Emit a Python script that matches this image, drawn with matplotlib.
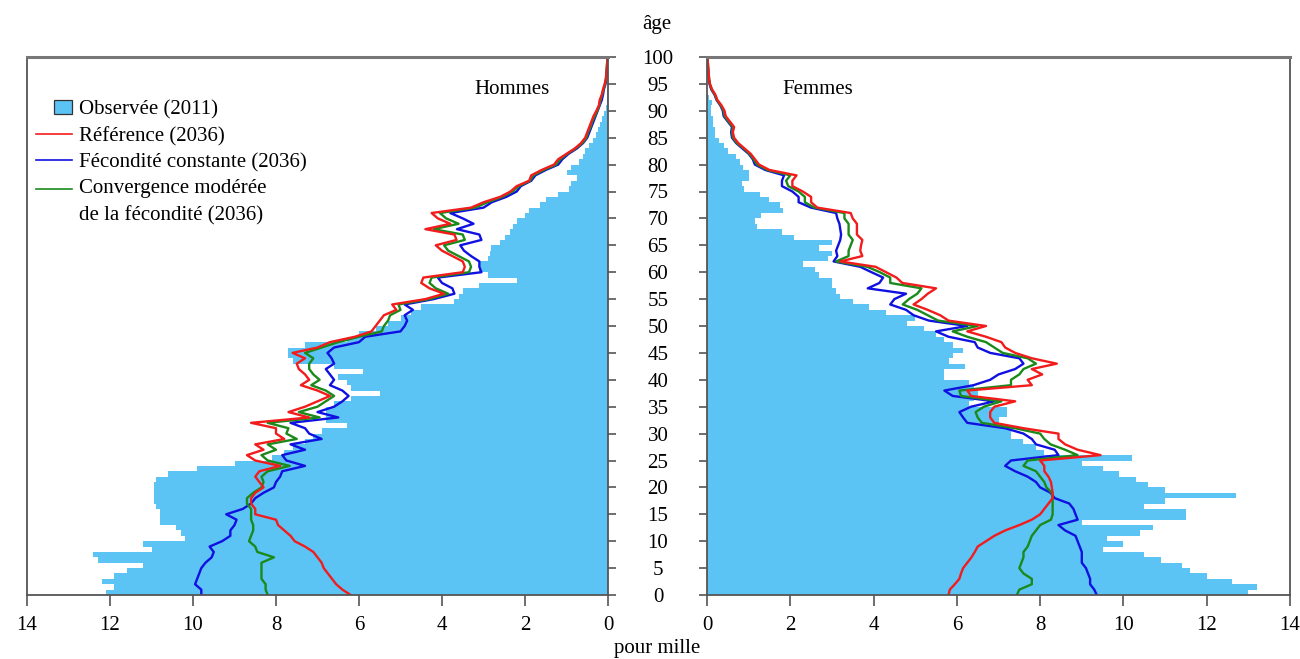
import matplotlib
matplotlib.use("Agg")
import matplotlib.pyplot as plt
from matplotlib.patches import Patch, Rectangle
from matplotlib.lines import Line2D
from matplotlib.legend_handler import HandlerPatch, HandlerLine2D

ages = list(range(0, 101))

# ---- Hommes (pour mille) ----
hommes_obs = [12.1, 11.9, 12.2, 11.9, 11.6, 11.2, 12.3, 12.4, 11.0, 11.2,
              10.2, 10.3, 10.4, 10.8, 10.8, 10.8, 10.9, 10.95, 10.95, 10.95,
              10.95, 10.9, 10.6, 9.9, 9.0, 8.1, 7.8, 7.6, 7.3, 7.1,
              6.9, 6.3, 6.8, 6.8, 6.8, 6.6, 6.2, 5.5, 6.2, 6.3,
              6.5, 5.9, 6.6, 7.6, 7.7, 7.7, 7.3, 6.3, 6.0, 5.6,
              5.3, 5.0, 4.75, 4.5, 3.7, 3.6, 3.5, 3.1, 2.2, 2.9,
              3.1, 3.1, 2.9, 2.85, 2.83, 2.6, 2.47, 2.35, 2.3, 2.2,
              2.0, 1.9, 1.65, 1.5, 1.2, 0.95, 0.9, 0.75, 1.0, 0.9,
              0.7, 0.6, 0.55, 0.45, 0.35, 0.3, 0.25, 0.2, 0.15, 0.1,
              0.05, 0.03, 0.02, 0.02, 0.01, 0.01, 0, 0, 0, 0, 0]
hommes_ref = [6.2, 6.4, 6.55, 6.65, 6.75, 6.85, 6.9, 7.0, 7.1, 7.3,
              7.55, 7.65, 7.8, 7.95, 8.0, 8.5, 8.5, 8.6, 8.6, 8.5,
              8.3, 8.4, 8.5, 8.4, 7.9, 8.5, 8.7, 8.3, 8.5, 7.8,
              8.0, 8.0, 8.6, 7.2, 7.7, 7.3, 7.0, 6.7, 7.0, 7.4,
              7.2, 7.3, 7.45, 7.5, 7.3, 7.6, 7.0, 6.7, 6.1, 5.7,
              5.6, 5.5, 5.4, 5.1, 5.2, 4.4, 3.95, 4.3, 4.5, 4.45,
              3.5, 3.45, 3.5, 3.75, 4.0, 4.15, 3.65, 3.7, 4.4, 3.8,
              4.1, 4.25, 3.3, 3.0, 2.6, 2.35, 2.2, 1.9, 1.85, 1.6,
              1.3, 1.2, 1.0, 0.8, 0.65, 0.55, 0.5, 0.45, 0.4, 0.35,
              0.28, 0.22, 0.2, 0.15, 0.12, 0.08, 0.05, 0.04, 0.03, 0.02, 0.01]
hommes_fc = [9.8, 9.8, 9.95, 9.9, 9.85, 9.8, 9.7, 9.55, 9.5, 9.6,
             9.3, 9.1, 9.1, 9.0, 8.95, 9.2, 8.8, 8.6, 8.5, 8.3,
             8.05, 8.0, 7.9, 7.85, 7.3, 7.75, 7.85, 7.3, 7.65, 6.9,
             7.2, 7.3, 7.65, 6.5, 7.0, 6.6, 6.4, 6.25, 6.4, 6.7,
             6.6, 6.7, 6.8, 6.6, 6.66, 6.76, 6.6, 6.0, 5.85, 5.0,
             4.9, 4.84, 4.9, 4.7, 4.9, 4.2, 3.7, 3.75, 4.0, 4.1,
             3.05, 3.1, 3.1, 3.3, 3.47, 3.56, 3.05, 3.1, 3.64, 3.24,
             3.5, 3.8, 3.0, 2.8, 2.45, 2.2, 2.1, 1.85, 1.75, 1.5,
             1.2, 1.1, 0.95, 0.75, 0.6, 0.5, 0.45, 0.4, 0.35, 0.3,
             0.25, 0.2, 0.15, 0.12, 0.1, 0.06, 0.04, 0.03, 0.02, 0.01, 0.01]
hommes_cm = [8.2, 8.25, 8.25, 8.35, 8.35, 8.35, 8.35, 8.05, 8.45, 8.5,
             8.65, 8.6, 8.55, 8.55, 8.6, 8.6, 8.6, 8.7, 8.7, 8.55,
             8.35, 8.3, 8.35, 8.2, 7.67, 8.2, 8.35, 8.0, 8.2, 7.5,
             7.75, 7.7, 8.2, 6.95, 7.45, 7.0, 6.8, 6.6, 6.8, 7.15,
             6.95, 7.1, 7.2, 7.2, 7.1, 7.3, 6.9, 6.5, 6.0, 5.45,
             5.4, 5.3, 5.25, 5.0, 5.05, 4.3, 3.85, 4.15, 4.3, 4.25,
             3.35, 3.3, 3.35, 3.6, 3.85, 3.95, 3.45, 3.5, 4.2, 3.6,
             3.9, 4.05, 3.2, 2.9, 2.55, 2.3, 2.15, 1.88, 1.8, 1.55,
             1.25, 1.15, 0.98, 0.78, 0.62, 0.52, 0.48, 0.42, 0.38, 0.32,
             0.26, 0.21, 0.18, 0.14, 0.11, 0.07, 0.05, 0.04, 0.03, 0.02, 0.01]

# ---- Femmes (pour mille) ----
femmes_obs = [13.0, 13.2, 12.6, 12.0, 11.6, 11.4, 10.9, 10.5, 9.5, 10.0,
              9.6, 10.4, 10.7, 9.0, 11.5, 11.5, 10.5, 11.0, 12.7, 11.0,
              10.6, 10.3, 9.9, 9.5, 9.0, 10.2, 8.1, 7.9, 7.6, 7.3,
              7.3, 6.9, 7.0, 7.2, 7.2, 6.3, 6.4, 6.5, 6.4, 6.3,
              5.7, 5.7, 6.2, 5.8, 5.9, 6.15, 5.9, 5.7, 5.5, 5.2,
              4.8, 5.0, 4.3, 3.9, 3.5, 3.2, 3.1, 3.0, 3.0, 2.7,
              2.6, 2.3, 2.9, 3.0, 2.7, 3.0, 2.1, 1.8, 1.2, 1.15,
              1.3, 1.83, 1.75, 1.5, 1.27, 0.9, 0.85, 1.0, 1.0, 0.87,
              0.8, 0.7, 0.5, 0.4, 0.3, 0.2, 0.2, 0.15, 0.15, 0.1,
              0.1, 0.12, 0.05, 0, 0, 0, 0, 0, 0, 0, 0]
femmes_ref = [5.8, 5.83, 5.95, 6.06, 6.1, 6.15, 6.25, 6.35, 6.43, 6.5,
              6.7, 6.9, 7.16, 7.5, 7.8, 8.0, 8.1, 8.2, 8.3, 8.3,
              8.28, 8.26, 8.2, 8.1, 8.1, 8.0, 9.45, 8.9, 8.6, 8.44,
              8.44, 7.6, 6.9, 6.8, 6.8, 6.9, 7.4, 6.34, 6.25, 7.8,
              7.7, 8.05, 7.8, 8.4, 7.8, 7.4, 7.16, 7.07, 6.7, 6.25,
              6.7, 5.8, 5.6, 5.3, 4.96, 5.15, 5.3, 5.5, 4.69, 4.55,
              4.3, 4.05, 3.2, 3.73, 3.68, 3.7, 3.73, 3.6, 3.6, 3.6,
              3.5, 3.45, 2.65, 2.5, 2.5, 2.3, 2.05, 2.05, 2.15, 1.5,
              1.25, 1.15, 1.05, 0.9, 0.75, 0.65, 0.62, 0.65, 0.55, 0.45,
              0.42, 0.35, 0.25, 0.2, 0.12, 0.07, 0.05, 0.04, 0.03, 0.02, 0.01]
femmes_fc = [9.36, 9.3, 9.2, 9.2, 9.15, 9.1, 9.0, 9.0, 9.0, 8.95,
             8.9, 8.85, 8.6, 8.44, 8.9, 8.85, 8.8, 8.7, 8.35, 8.25,
             8.0, 7.9, 7.7, 7.4, 7.16, 7.3, 8.44, 8.35, 7.9, 7.8,
             7.6, 7.16, 6.25, 6.15, 6.06, 6.34, 6.9, 5.9, 5.7, 6.4,
             6.8, 7.0, 7.4, 7.6, 7.5, 6.8, 6.5, 6.43, 5.8, 5.5,
             6.25, 5.33, 4.96, 4.78, 4.4, 4.5, 4.78, 3.86, 4.14, 4.23,
             3.95, 3.68, 3.04, 3.13, 3.1, 3.15, 3.2, 3.22, 3.2, 3.18,
             3.13, 3.1, 2.5, 2.2, 2.2, 2.05, 1.8, 1.8, 1.85, 1.4,
             1.15, 1.1, 1.0, 0.85, 0.7, 0.6, 0.58, 0.6, 0.5, 0.4,
             0.38, 0.32, 0.23, 0.18, 0.1, 0.06, 0.04, 0.03, 0.02, 0.01, 0.01]
femmes_cm = [7.44, 7.5, 7.8, 7.8, 7.6, 7.5, 7.55, 7.6, 7.6, 7.7,
             7.75, 7.8, 7.9, 8.0, 8.26, 8.3, 8.3, 8.3, 8.3, 8.28,
             8.15, 8.1, 8.0, 7.9, 7.6, 7.7, 8.9, 8.6, 8.25, 8.1,
             8.0, 7.4, 6.6, 6.5, 6.45, 6.65, 7.07, 6.1, 6.06, 7.3,
             7.3, 7.5, 7.6, 7.9, 7.7, 7.1, 6.9, 6.7, 6.25, 5.9,
             6.5, 5.55, 5.3, 5.05, 4.7, 4.85, 5.05, 5.15, 4.4, 4.4,
             4.15, 3.85, 3.1, 3.4, 3.4, 3.45, 3.5, 3.4, 3.4, 3.4,
             3.3, 3.3, 2.58, 2.35, 2.35, 2.2, 1.95, 1.9, 2.0, 1.45,
             1.2, 1.12, 1.02, 0.88, 0.72, 0.62, 0.6, 0.62, 0.52, 0.42,
             0.4, 0.33, 0.24, 0.19, 0.11, 0.07, 0.05, 0.04, 0.03, 0.02, 0.01]

x_ticks = [0, 2, 4, 6, 8, 10, 12, 14]
age_ticks = list(range(0, 101, 5))
labels = ["Observée (2011)", "Référence (2036)", "Fécondité constante (2036)",
          "Convergence modérée\nde la fécondité (2036)"]

FILL = "#5cc3f5"
RED = "#f21c1c"
BLUE = "#1010e0"
GREEN = "#1b8a1b"
SPINE = "#555555"
FONT = "Liberation Serif"
FS = 15

plt.rcParams["font.family"] = [FONT, "DejaVu Serif"]

fig = plt.figure(figsize=(13, 6.59), dpi=100)
axL = fig.add_axes([27 / 1300, 1 - 595 / 659, 581 / 1300, 538 / 659])
axR = fig.add_axes([707 / 1300, 1 - 595 / 659, 583 / 1300, 538 / 659])


def draw(ax, obs, ref, fc, cm):
    ax.fill_betweenx(ages, 0, obs, step="post", color=FILL, linewidth=0)
    ax.plot(fc, ages, color=BLUE, lw=1.7)
    ax.plot(cm, ages, color=GREEN, lw=1.7)
    ax.plot(ref, ages, color=RED, lw=1.7)
    ax.set_ylim(0, 100)
    ax.set_xticks(x_ticks)
    ax.set_xticklabels([str(v) for v in x_ticks], fontsize=FS)
    ax.set_yticks(age_ticks)
    ax.tick_params(axis="x", direction="out", length=8, width=1.2, color=SPINE, pad=7)
    ax.tick_params(axis="y", direction="out", length=6, width=1.2, color=SPINE)
    for s in ax.spines.values():
        s.set_color(SPINE)
        s.set_linewidth(1.3)
    ax.spines["top"].set_linewidth(2.2)
    ax.spines["top"].set_color("#777777")


draw(axL, hommes_obs, hommes_ref, hommes_fc, hommes_cm)
draw(axR, femmes_obs, femmes_ref, femmes_fc, femmes_cm)

axL.set_xlim(14, 0)
axR.set_xlim(0, 14)

# age labels in the middle, from the left panel's right axis
axL.yaxis.tick_right()
axL.set_yticklabels([str(a) for a in age_ticks], fontsize=FS)
axL.tick_params(axis="y", pad=30)
for t in axL.get_yticklabels():
    t.set_horizontalalignment("center")
axR.yaxis.tick_left()
axR.set_yticklabels([])

axL.text(0.835, 0.94, "Hommes", transform=axL.transAxes, fontsize=FS,
         ha="center", va="center")
axR.text(0.19, 0.94, "Femmes", transform=axR.transAxes, fontsize=FS,
         ha="center", va="center")

fig.text(657 / 1300, 1 - 24 / 659, "âge", fontsize=FS, ha="center", va="center")
fig.text(657 / 1300, 1 - 648 / 659, "pour mille", fontsize=FS, ha="center", va="center")


class SquareHandler(HandlerPatch):
    def create_artists(self, legend, orig_handle, xdescent, ydescent,
                       width, height, fontsize, trans):
        h = height * 0.95
        w = h * 1.3
        p = Rectangle((width - w - xdescent, -ydescent + (height - h) / 2), w, h,
                      facecolor=orig_handle.get_facecolor(),
                      edgecolor=orig_handle.get_edgecolor(),
                      linewidth=orig_handle.get_linewidth(), transform=trans)
        return [p]


class UpperLineHandler(HandlerLine2D):
    """Line handle aligned with the first line of a two-line label."""
    def create_artists(self, legend, orig_handle, xdescent, ydescent,
                       width, height, fontsize, trans):
        y = (height - ydescent) / 2 + 0.64 * fontsize
        ln = Line2D([-xdescent, width - xdescent], [y, y],
                    color=orig_handle.get_color(), lw=orig_handle.get_linewidth(),
                    transform=trans)
        return [ln]


obs_patch = Patch(facecolor=FILL, edgecolor="#333333", linewidth=0.9)
green_handle = Line2D([], [], color=GREEN, lw=1.2)
handles = [obs_patch,
           Line2D([], [], color=RED, lw=1.2),
           Line2D([], [], color=BLUE, lw=1.2),
           green_handle]
leg = axL.legend(handles, labels, loc="upper left",
                 bbox_to_anchor=(9 / 581, 1 - 43 / 538),
                 frameon=False, fontsize=FS, handlelength=1.73, handletextpad=0.33,
                 labelspacing=0.33, borderaxespad=0.0, borderpad=0.0,
                 handler_map={obs_patch: SquareHandler(),
                              green_handle: UpperLineHandler()})
for t in leg.get_texts():
    t.set_linespacing(1.5)

fig.savefig("out.png", dpi=100)
